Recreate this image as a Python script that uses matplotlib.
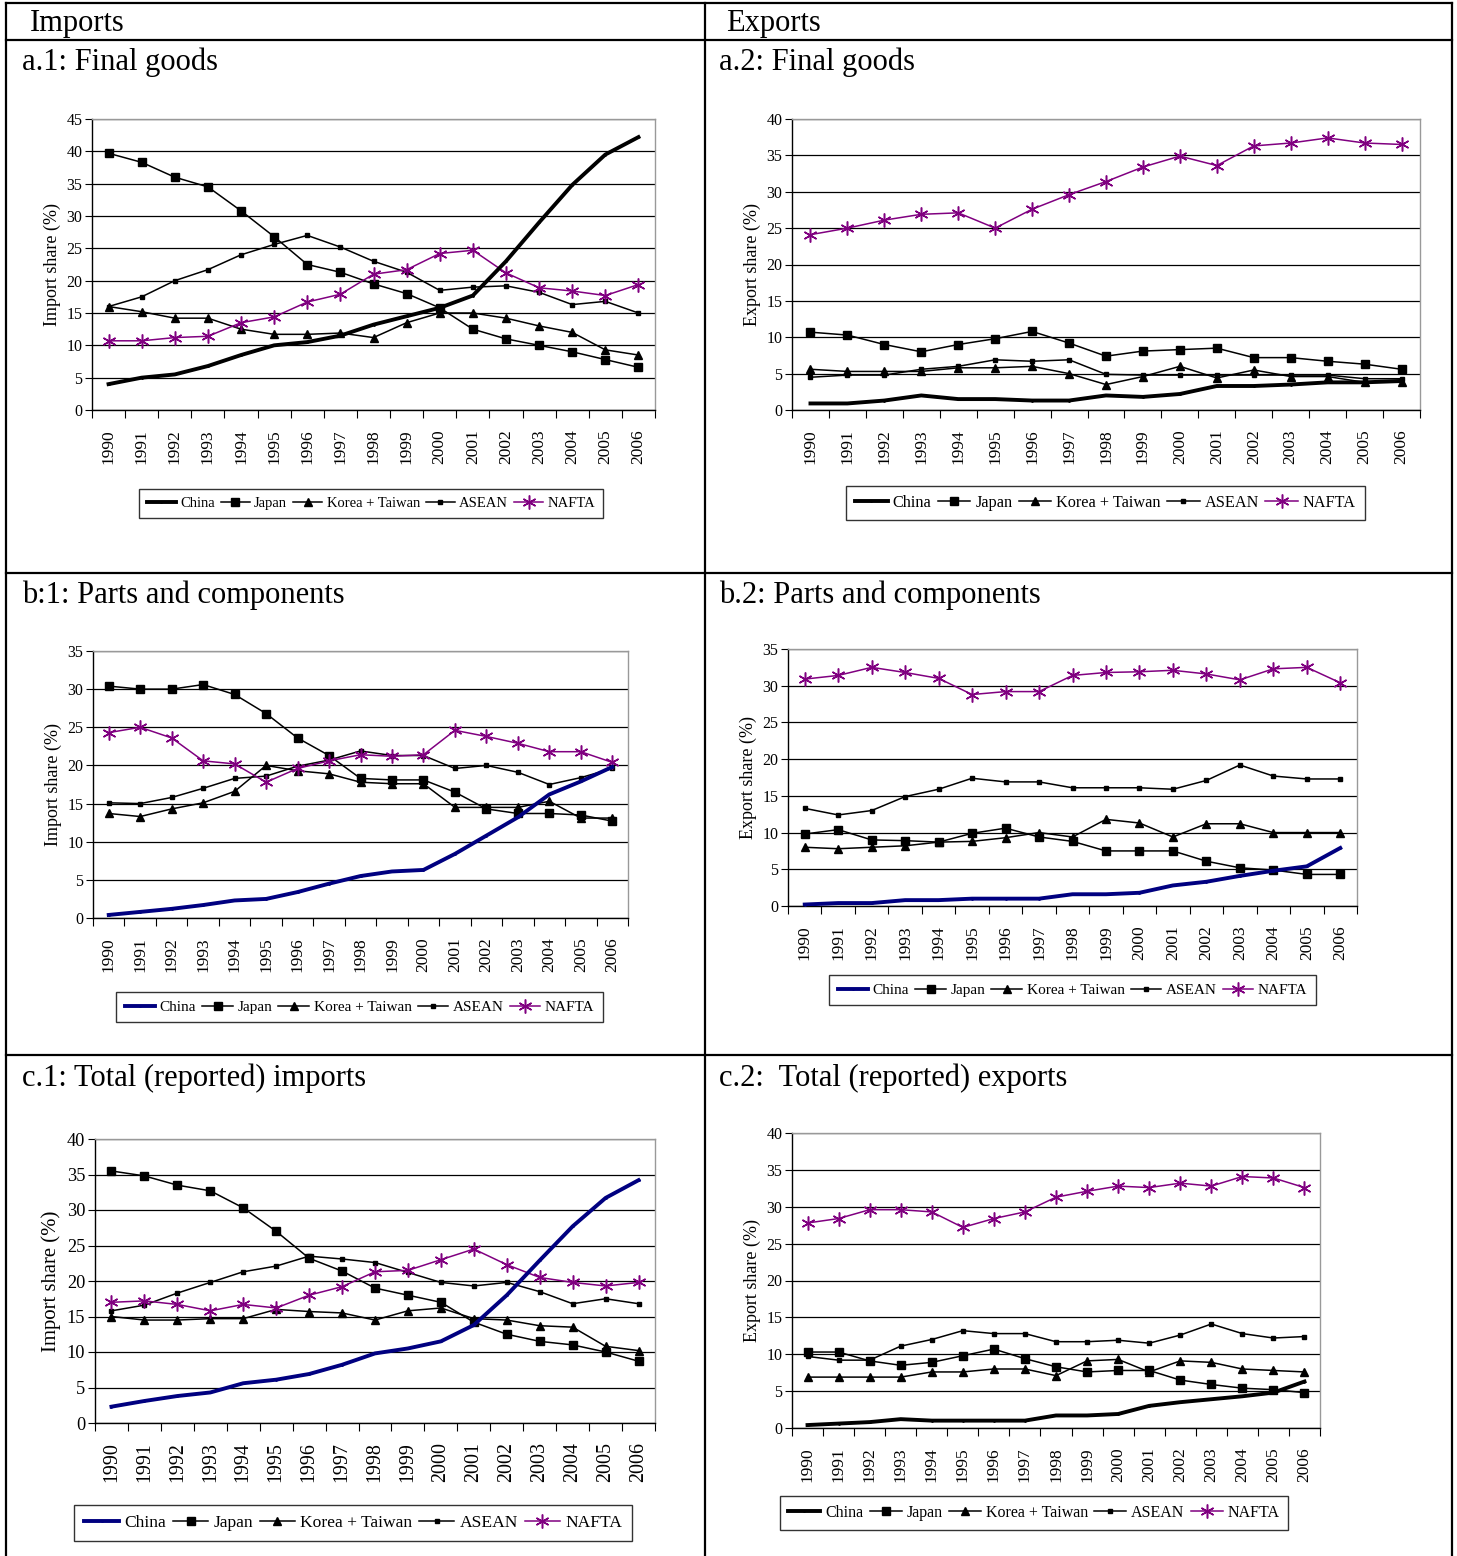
import matplotlib
matplotlib.use("Agg")
import matplotlib.pyplot as plt
from matplotlib.lines import Line2D
import numpy as np

plt.rcParams['font.family'] = ['Liberation Serif', 'DejaVu Serif']

years = [str(y) for y in range(1990, 2007)]
series_names = ["China", "Japan", "Korea + Taiwan", "ASEAN", "NAFTA"]

# a.1 Imports, final goods
a1_china = [4.0, 5.0, 5.5, 6.8, 8.5, 10.0, 10.5, 11.5, 13.2, 14.5, 15.8, 17.7, 23.0, 29.0, 34.8, 39.5, 42.2]
a1_japan = [39.7, 38.3, 36.0, 34.5, 30.8, 26.8, 22.5, 21.3, 19.5, 18.0, 15.8, 12.5, 11.0, 10.0, 9.0, 7.8, 6.6]
a1_korea = [16.0, 15.2, 14.2, 14.2, 12.5, 11.7, 11.7, 11.9, 11.2, 13.5, 15.0, 15.0, 14.2, 13.0, 12.0, 9.3, 8.5]
a1_asean = [16.0, 17.5, 20.0, 21.7, 24.0, 25.6, 27.0, 25.2, 23.0, 21.3, 18.5, 19.0, 19.2, 18.2, 16.3, 16.8, 15.0]
a1_nafta = [10.7, 10.7, 11.2, 11.4, 13.5, 14.4, 16.7, 17.9, 21.0, 21.7, 24.2, 24.7, 21.2, 18.9, 18.4, 17.7, 19.4]

# a.2 Exports, final goods
a2_china = [0.9, 0.9, 1.3, 2.0, 1.5, 1.5, 1.3, 1.3, 2.0, 1.8, 2.2, 3.3, 3.3, 3.5, 3.8, 3.8, 4.0]
a2_japan = [10.7, 10.3, 9.0, 8.0, 9.0, 9.8, 10.8, 9.2, 7.4, 8.1, 8.3, 8.5, 7.2, 7.2, 6.7, 6.3, 5.6]
a2_korea = [5.6, 5.3, 5.3, 5.3, 5.8, 5.8, 6.0, 5.0, 3.5, 4.6, 6.0, 4.4, 5.5, 4.6, 4.6, 3.8, 3.8]
a2_asean = [4.5, 4.8, 4.8, 5.6, 6.0, 6.9, 6.7, 6.9, 4.9, 4.8, 4.8, 4.8, 4.8, 4.8, 4.8, 4.3, 4.3]
a2_nafta = [24.1, 25.0, 26.1, 26.9, 27.1, 25.0, 27.6, 29.6, 31.4, 33.4, 34.9, 33.6, 36.3, 36.7, 37.4, 36.7, 36.5]

# b.1 Imports, parts and components
b1_china = [0.4, 0.8, 1.2, 1.7, 2.3, 2.5, 3.4, 4.5, 5.5, 6.1, 6.3, 8.4, 10.8, 13.2, 16.2, 17.9, 19.8]
b1_japan = [30.4, 30.0, 30.0, 30.6, 29.3, 26.8, 23.6, 21.3, 18.3, 18.1, 18.1, 16.5, 14.3, 13.7, 13.7, 13.5, 12.7]
b1_korea = [13.7, 13.3, 14.3, 15.1, 16.6, 20.0, 19.3, 18.9, 17.8, 17.6, 17.6, 14.5, 14.5, 14.5, 15.3, 13.1, 13.1]
b1_asean = [15.1, 15.0, 15.8, 17.0, 18.3, 18.6, 19.9, 20.7, 21.9, 21.3, 21.3, 19.6, 20.0, 19.1, 17.5, 18.4, 19.6]
b1_nafta = [24.3, 25.0, 23.6, 20.6, 20.2, 17.8, 19.6, 20.6, 21.4, 21.2, 21.4, 24.6, 23.8, 22.9, 21.8, 21.8, 20.4]

# b.2 Exports, parts and components
b2_china = [0.2, 0.4, 0.4, 0.8, 0.8, 1.0, 1.0, 1.0, 1.6, 1.6, 1.8, 2.8, 3.3, 4.1, 4.8, 5.4, 7.9]
b2_japan = [9.8, 10.4, 9.0, 8.9, 8.7, 9.9, 10.6, 9.4, 8.8, 7.5, 7.5, 7.5, 6.1, 5.2, 4.9, 4.3, 4.3]
b2_korea = [8.0, 7.8, 8.0, 8.2, 8.7, 8.8, 9.3, 10.0, 9.4, 11.8, 11.3, 9.4, 11.2, 11.2, 10.0, 10.0, 10.0]
b2_asean = [13.3, 12.4, 13.0, 14.9, 15.9, 17.4, 16.9, 16.9, 16.1, 16.1, 16.1, 15.9, 17.1, 19.2, 17.7, 17.3, 17.3]
b2_nafta = [30.9, 31.4, 32.5, 31.8, 31.0, 28.8, 29.2, 29.2, 31.4, 31.8, 31.9, 32.1, 31.6, 30.8, 32.3, 32.5, 30.4]

# c.1 Total imports
c1_china = [2.3, 3.1, 3.8, 4.3, 5.6, 6.1, 6.9, 8.2, 9.8, 10.5, 11.5, 13.8, 18.0, 22.9, 27.7, 31.7, 34.2]
c1_japan = [35.5, 34.8, 33.5, 32.7, 30.3, 27.0, 23.2, 21.4, 19.0, 18.0, 17.0, 14.2, 12.5, 11.5, 11.0, 10.0, 8.7]
c1_korea = [15.0, 14.5, 14.5, 14.7, 14.7, 16.0, 15.7, 15.5, 14.5, 15.8, 16.2, 14.7, 14.5, 13.7, 13.5, 10.8, 10.2]
c1_asean = [15.8, 16.6, 18.3, 19.8, 21.3, 22.1, 23.5, 23.1, 22.6, 21.2, 19.8, 19.3, 19.8, 18.5, 16.8, 17.5, 16.8]
c1_nafta = [17.0, 17.2, 16.7, 15.8, 16.7, 16.2, 18.0, 19.2, 21.3, 21.5, 23.0, 24.5, 22.3, 20.5, 19.8, 19.3, 19.8]

# c.2 Total exports
c2_china = [0.4, 0.6, 0.8, 1.2, 1.0, 1.0, 1.0, 1.0, 1.7, 1.7, 1.9, 3.0, 3.5, 3.9, 4.3, 4.8, 6.3]
c2_japan = [10.3, 10.3, 9.1, 8.5, 8.9, 9.8, 10.7, 9.4, 8.3, 7.6, 7.8, 7.8, 6.5, 5.9, 5.4, 5.2, 4.8]
c2_korea = [6.9, 6.9, 6.9, 6.9, 7.6, 7.6, 8.0, 8.0, 7.1, 9.1, 9.3, 7.6, 9.1, 8.9, 8.0, 7.8, 7.6]
c2_asean = [9.7, 9.2, 9.2, 11.1, 12.0, 13.2, 12.8, 12.8, 11.7, 11.7, 11.9, 11.5, 12.6, 14.1, 12.8, 12.2, 12.4]
c2_nafta = [27.8, 28.4, 29.6, 29.6, 29.3, 27.2, 28.4, 29.3, 31.3, 32.1, 32.8, 32.6, 33.2, 32.8, 34.1, 33.9, 32.6]

W, H = 1457, 1556
fig = plt.figure(figsize=(W / 100, H / 100), dpi=100)

def fx(x):
    return x / W

def fy(y):
    return 1 - y / H

def hline(y, x0=6, x1=1452, lw=1.6):
    fig.add_artist(Line2D([fx(x0), fx(x1)], [fy(y), fy(y)], color='black', lw=lw))

def vline(x, y0=3, y1=1556, lw=1.6):
    fig.add_artist(Line2D([fx(x), fx(x)], [fy(y0), fy(y1)], color='black', lw=lw))

for yy in [3, 40, 573, 1055]:
    hline(yy)
for xx in [6, 705, 1452]:
    vline(xx)

fig.text(fx(30), fy(23), "Imports", fontsize=22, va='center', ha='left')
fig.text(fx(726), fy(23), "Exports", fontsize=22, va='center', ha='left')

panel_titles = [
    (22, 62, "a.1: Final goods"), (719, 62, "a.2: Final goods"),
    (22, 595, "b:1: Parts and components"), (719, 595, "b.2: Parts and components"),
    (22, 1078, "c.1: Total (reported) imports"), (719, 1078, "c.2:  Total (reported) exports"),
]
for x, y, t in panel_titles:
    fig.text(fx(x), fy(y), t, fontsize=22, va='center', ha='left')

NAVY = '#000080'
PURPLE = '#800080'

# (x0, y0, x1, y1, ymax, ylabel, data, china colour, legend box, text scale, legend font)
panels = [
    (92, 119, 655, 410, 45, "Import share (%)", (a1_china, a1_japan, a1_korea, a1_asean, a1_nafta), 'black', (141, 486, 601, 521), 1.0, 10.5),
    (792, 119, 1420, 410, 40, "Export share (%)", (a2_china, a2_japan, a2_korea, a2_asean, a2_nafta), 'black', (848, 486, 1363, 520), 1.0, 11.7),
    (93, 651, 628, 918, 35, "Import share (%)", (b1_china, b1_japan, b1_korea, b1_asean, b1_nafta), NAVY, (119, 990, 600, 1024), 1.0, 11.0),
    (788, 649, 1357, 906, 35, "Export share (%)", (b2_china, b2_japan, b2_korea, b2_asean, b2_nafta), NAVY, (831, 973, 1314, 1007), 1.0, 11.0),
    (95, 1139, 655, 1423, 40, "Import share (%)", (c1_china, c1_japan, c1_korea, c1_asean, c1_nafta), NAVY, (77, 1505, 629, 1541), 1.15, 12.6),
    (792, 1133, 1320, 1428, 40, "Export share (%)", (c2_china, c2_japan, c2_korea, c2_asean, c2_nafta), 'black', (782, 1496, 1286, 1530), 1.0, 11.5),
]

x = np.arange(len(years))

for (x0, y0, x1, y1, ymax, ylab, data, ccol, lb, sc, lfs) in panels:
    ax = fig.add_axes([fx(x0), fy(y1), fx(x1 - x0), (y1 - y0) / H])
    china, japan, korea, asean, nafta = data
    h1, = ax.plot(x, china, color=ccol, lw=2.8, marker='.', ms=2, zorder=5)
    h2, = ax.plot(x, japan, color='black', lw=1.1, marker='s', ms=6, zorder=4)
    h3, = ax.plot(x, korea, color='black', lw=1.1, marker='^', ms=6, zorder=4)
    h4, = ax.plot(x, asean, color='black', lw=1.1, marker='s', ms=3, zorder=4)
    h5, = ax.plot(x, nafta, color=PURPLE, lw=1.1, marker=(6, 2, 0), ms=10, mew=1.1, zorder=4)

    ax.set_xlim(-0.5, len(years) - 0.5)
    ax.set_ylim(0, ymax)
    ax.set_yticks(np.arange(0, ymax + 1, 5))
    ax.yaxis.grid(True, color='black', lw=0.9)
    ax.set_axisbelow(True)
    ax.set_xticks(np.arange(-0.5, len(years), 1.0))
    ax.set_xticklabels([])
    ax.set_xticks(x, minor=True)
    ax.set_xticklabels(years, minor=True, rotation=90, fontsize=12.5 * sc)
    ax.tick_params(axis='x', which='major', length=6, direction='out', color='black')
    ax.tick_params(axis='x', which='minor', length=0, pad=14)
    ax.tick_params(axis='y', length=5, direction='out', labelsize=11.5 * sc, pad=2)
    for s in ['top', 'right']:
        ax.spines[s].set_color('#999999')
        ax.spines[s].set_linewidth(1.0)
    for s in ['left', 'bottom']:
        ax.spines[s].set_color('black')
        ax.spines[s].set_linewidth(1.0)
    ax.set_ylabel(ylab, fontsize=13 * sc, labelpad=4)

    lx0, ly0, lx1, ly1 = lb
    leg = fig.legend([h1, h2, h3, h4, h5], series_names, ncol=5,
                     loc='center', bbox_to_anchor=(fx((lx0 + lx1) / 2), fy((ly0 + ly1) / 2)),
                     fontsize=lfs, frameon=True, fancybox=False, edgecolor='black',
                     handlelength=2.0, handletextpad=0.3, columnspacing=0.4,
                     borderpad=0.55, borderaxespad=0)
    leg.get_frame().set_linewidth(1.0)

fig.savefig("out.png", dpi=100)
